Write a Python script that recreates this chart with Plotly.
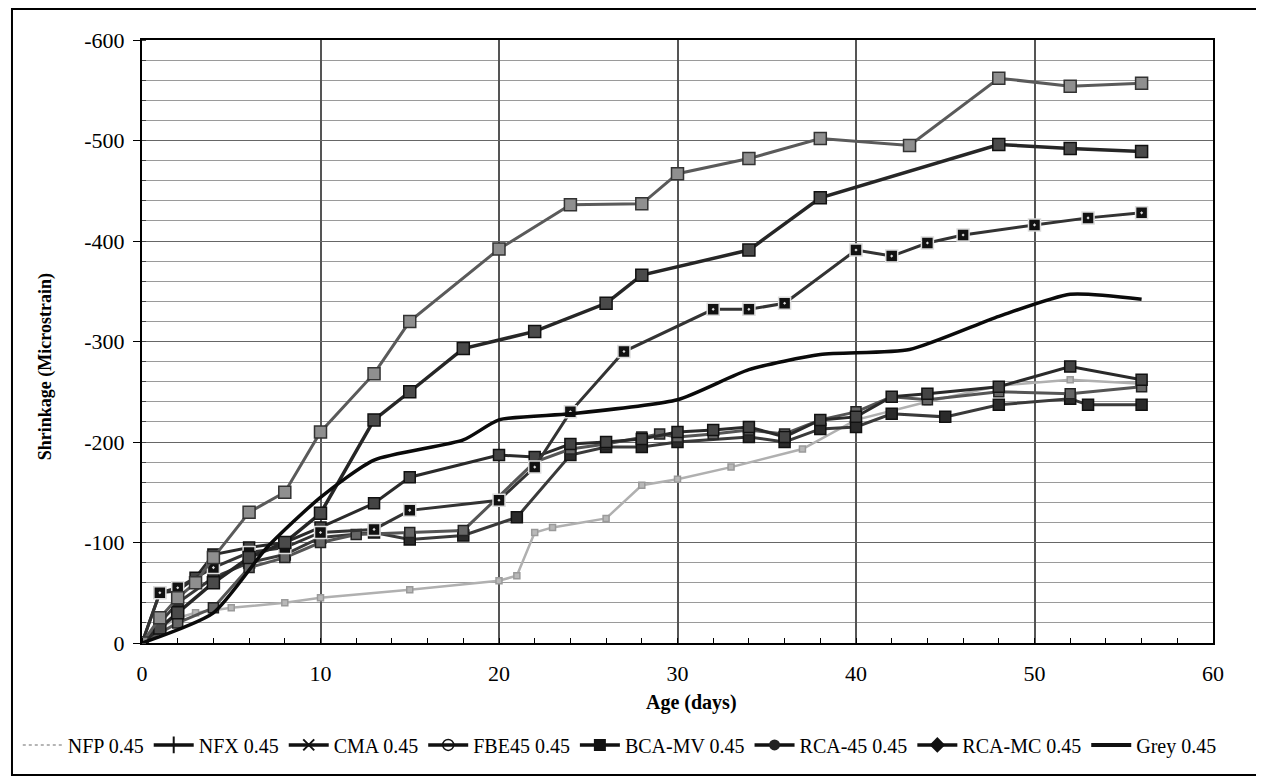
import plotly.graph_objects as go

# ---------------- data ----------------
series_names = ["NFP 0.45", "NFX 0.45", "CMA 0.45", "FBE45 0.45",
                "BCA-MV 0.45", "RCA-45 0.45", "RCA-MC 0.45", "Grey 0.45"]

nfp_days = [0, 1, 2, 3, 5, 8, 10, 15, 20, 21, 22, 23, 26, 28, 30, 33, 37, 40, 44, 48, 52, 56]
nfp_vals = [0, -15, -25, -30, -35, -40, -45, -53, -62, -67, -110, -115, -124, -157, -163, -175, -193, -222, -240, -256, -262, -258]

nfx_days = [0, 2, 4, 6, 8, 10, 13, 15, 18, 21, 24, 26, 28, 30, 34, 36, 38, 40, 42, 45, 48, 52, 53, 56]
nfx_vals = [0, -40, -65, -80, -88, -105, -110, -103, -107, -125, -187, -195, -195, -200, -205, -200, -213, -215, -228, -225, -237, -243, -237, -237]

cma_days = [0, 2, 4, 6, 8, 10, 12, 15, 18, 22, 24, 26, 28, 29, 30, 32, 34, 36, 38, 40, 42, 44, 48, 52, 56]
cma_vals = [0, -20, -35, -75, -85, -100, -108, -110, -112, -180, -193, -198, -205, -208, -205, -208, -212, -208, -222, -230, -245, -242, -250, -248, -255]

fbe_days = [0, 1, 2, 3, 4, 6, 8, 10, 13, 15, 20, 22, 24, 26, 28, 30, 32, 34, 36, 38, 40, 42, 44, 48, 52, 56]
fbe_vals = [0, -50, -52, -65, -88, -95, -100, -115, -139, -165, -187, -185, -198, -200, -203, -210, -212, -215, -205, -222, -225, -245, -248, -255, -275, -262]

bca_days = [0, 1, 2, 4, 6, 8, 10, 13, 15, 20, 22, 24, 27, 32, 34, 36, 40, 42, 44, 46, 50, 53, 56]
bca_vals = [0, -50, -55, -75, -90, -95, -110, -113, -132, -142, -175, -230, -290, -332, -332, -338, -391, -385, -398, -406, -416, -423, -428]

rca45_days = [0, 1, 2, 4, 6, 8, 10, 13, 15, 18, 22, 26, 28, 34, 38, 48, 52, 56]
rca45_vals = [0, -15, -30, -60, -85, -100, -129, -222, -250, -293, -310, -338, -366, -391, -443, -496, -492, -489]

rcamc_days = [0, 1, 2, 3, 4, 6, 8, 10, 13, 15, 20, 24, 28, 30, 34, 38, 43, 48, 52, 56]
rcamc_vals = [0, -25, -45, -60, -85, -130, -150, -210, -268, -320, -392, -436, -437, -467, -482, -502, -495, -562, -554, -557]

grey_days = [0, 4, 7, 10, 13, 18, 20, 24, 30, 34, 38, 43, 48, 52, 56]
grey_vals = [0, -30, -95, -145, -182, -202, -222, -228, -242, -272, -287, -292, -325, -347, -342]

y_tick_vals = [0, -100, -200, -300, -400, -500, -600]
y_tick_text = ["0", "-100", "-200", "-300", "-400", "-500", "-600"]
x_tick_vals = [0, 10, 20, 30, 40, 50, 60]

x_title = "Age (days)"
y_title = "Shrinkage (Microstrain)"

# ---------------- styling ----------------
FONT = "Times New Roman, Liberation Serif, DejaVu Serif, serif"

data_styles = [
    # (days, vals, line colour, width, marker symbol, marker size, fill, border)
    (nfp_days, nfp_vals, "#b0b0b0", 2.5, "square", 6, "#b8b8b8", "#9a9a9a"),
    (nfx_days, nfx_vals, "#3a3a3a", 3, "square", 11, "#2a2a2a", "#111111"),
    (cma_days, cma_vals, "#555555", 3, "square", 10, "#666666", "#222222"),
    (fbe_days, fbe_vals, "#2a2a2a", 3, "square", 11, "#444444", "#111111"),
    (bca_days, bca_vals, "#333333", 3, "square-dot", 12, "#111111", "#dddddd"),
    (rca45_days, rca45_vals, "#262626", 3.5, "square", 12, "#4a4a4a", "#111111"),
    (rcamc_days, rcamc_vals, "#5a5a5a", 3, "square", 12, "#8f8f8f", "#333333"),
    (grey_days, grey_vals, "#0a0a0a", 3.5, None, 0, None, None),
]

legend_styles = [
    dict(mode="lines", line=dict(color="#b5b5b5", width=2, dash="dot")),
    dict(mode="lines+markers", line=dict(color="#111", width=3.5),
         marker=dict(symbol="line-ns-open", size=12, line=dict(color="#111", width=2))),
    dict(mode="lines+markers", line=dict(color="#111", width=3.5),
         marker=dict(symbol="x-thin-open", size=11, line=dict(color="#111", width=2))),
    dict(mode="lines+markers", line=dict(color="#111", width=3.5),
         marker=dict(symbol="circle-open", size=11, color="#111", line=dict(color="#111", width=1.5))),
    dict(mode="lines+markers", line=dict(color="#111", width=3.5),
         marker=dict(symbol="square", size=12, color="#111")),
    dict(mode="lines+markers", line=dict(color="#111", width=3.5),
         marker=dict(symbol="circle", size=11, color="#222")),
    dict(mode="lines+markers", line=dict(color="#111", width=3.5),
         marker=dict(symbol="diamond", size=12, color="#111")),
    dict(mode="lines", line=dict(color="#111", width=4)),
]

fig = go.Figure()

for name, (dx, dy, lc, lw, sym, ms, fill, border) in zip(series_names, data_styles):
    if sym is None:
        fig.add_trace(go.Scatter(x=dx, y=dy, mode="lines", name=name, showlegend=False,
                                 legendgroup=name,
                                 line=dict(color=lc, width=lw, shape="spline", smoothing=0.6)))
    else:
        fig.add_trace(go.Scatter(x=dx, y=dy, mode="lines+markers", name=name, showlegend=False,
                                 legendgroup=name,
                                 line=dict(color=lc, width=lw),
                                 marker=dict(symbol=sym, size=ms, color=fill,
                                             line=dict(color=border, width=1.5))))

# legend entries (as in the original legend)
for name, st in zip(series_names, legend_styles):
    fig.add_trace(go.Scatter(x=[None], y=[None], name=name, legendgroup=name, **st))

fig.update_layout(
    width=1256, height=770,
    paper_bgcolor="white", plot_bgcolor="white",
    margin=dict(l=134, r=51, t=32, b=135, autoexpand=False),
    font=dict(family=FONT, size=16, color="black"),
    showlegend=True,
    legend=dict(orientation="h", x=-0.116, xanchor="left", y=-0.169, yanchor="middle",
                font=dict(family=FONT, size=20, color="black"),
                itemwidth=40, tracegroupgap=0, bgcolor="rgba(0,0,0,0)"),
    xaxis=dict(range=[0, 60], tickmode="array", tickvals=x_tick_vals,
               showgrid=True, gridcolor="#555555", gridwidth=1.5,
               showline=True, linecolor="black", linewidth=2, mirror=True,
               ticks="", zeroline=False, ticklabelstandoff=10,
               minor=dict(tickmode="linear", tick0=0, dtick=2, ticks="inside",
                          ticklen=5, tickcolor="black", showgrid=False),
               tickfont=dict(family=FONT, size=22)),
    yaxis=dict(range=[0, -600], tickmode="array", tickvals=y_tick_vals, ticktext=y_tick_text,
               showgrid=True, gridcolor="#666666", gridwidth=1,
               showline=True, linecolor="black", linewidth=2, mirror=True,
               ticks="outside", ticklen=7, tickcolor="black", zeroline=False,
               ticklabelstandoff=4,
               minor=dict(tickmode="linear", tick0=0, dtick=20, ticks="inside",
                          ticklen=4, tickcolor="#444", showgrid=True,
                          gridcolor="#9a9a9a", gridwidth=1),
               tickfont=dict(family=FONT, size=22)),
    annotations=[
        dict(text="<b>" + x_title + "</b>", xref="paper", yref="paper",
             x=0.5135, y=-0.0995, xanchor="center", yanchor="middle", showarrow=False,
             font=dict(family=FONT, size=20, color="black")),
        dict(text="<b>" + y_title + "</b>", xref="paper", yref="paper",
             x=-0.0906, y=0.459, xanchor="center", yanchor="middle", showarrow=False,
             textangle=-90, font=dict(family=FONT, size=18, color="black")),
    ],
)

# outer chart frame
fig.add_shape(type="rect", xref="paper", yref="paper",
              x0=-0.1214, x1=1.0439, y0=-0.2189, y1=1.0514,
              line=dict(color="black", width=2), layer="below")

fig.write_html("out.html")
